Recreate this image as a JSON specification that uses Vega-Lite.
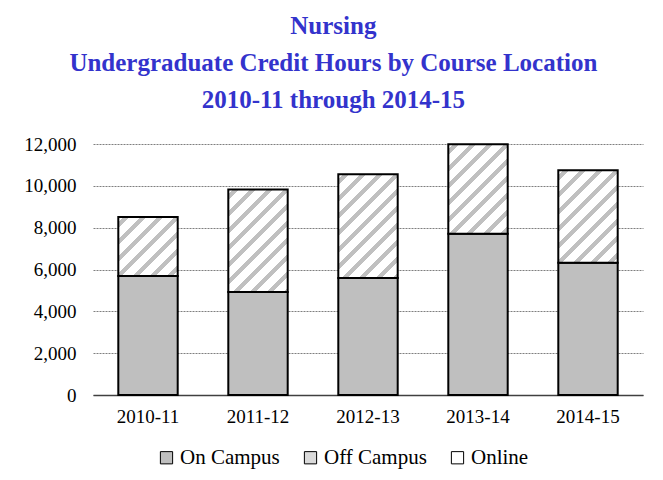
{
  "$schema": "https://vega.github.io/schema/vega-lite/v6.json",
  "width": 550,
  "height": 251,
  "autosize": {"type": "none"},
  "padding": {"left": 93, "top": 144, "right": 20, "bottom": 85},
  "background": "white",
  "title": {
    "text": ["Nursing", "Undergraduate Credit Hours by Course Location", "2010-11 through 2014-15"],
    "font": "Liberation Serif",
    "fontSize": 25,
    "fontWeight": "bold",
    "color": "#3333cc",
    "lineHeight": 37,
    "anchor": "middle",
    "frame": "bounds",
    "offset": 22
  },
  "data": {
    "values": [
      {"year": "2010-11", "loc": "On Campus", "hours": 5690},
      {"year": "2010-11", "loc": "Off Campus", "hours": 2820},
      {"year": "2010-11", "loc": "Online", "hours": 0},
      {"year": "2011-12", "loc": "On Campus", "hours": 4920},
      {"year": "2011-12", "loc": "Off Campus", "hours": 4900},
      {"year": "2011-12", "loc": "Online", "hours": 0},
      {"year": "2012-13", "loc": "On Campus", "hours": 5590},
      {"year": "2012-13", "loc": "Off Campus", "hours": 4960},
      {"year": "2012-13", "loc": "Online", "hours": 0},
      {"year": "2013-14", "loc": "On Campus", "hours": 7710},
      {"year": "2013-14", "loc": "Off Campus", "hours": 4280},
      {"year": "2013-14", "loc": "Online", "hours": 0},
      {"year": "2014-15", "loc": "On Campus", "hours": 6320},
      {"year": "2014-15", "loc": "Off Campus", "hours": 4420},
      {"year": "2014-15", "loc": "Online", "hours": 0}
    ]
  },
  "mark": {"type": "bar", "stroke": "black", "strokeWidth": 2},
  "encoding": {
    "x": {
      "field": "year", "type": "nominal",
      "scale": {"paddingInner": 0.46, "paddingOuter": 0.23},
      "axis": {"title": null, "labelAngle": 0, "ticks": false, "domain": true, "domainColor": "#404040", "domainWidth": 1.5, "labelPadding": 12, "labelFont": "Liberation Serif", "labelFontSize": 19, "labelColor": "black"}
    },
    "y": {
      "field": "hours", "type": "quantitative", "stack": "zero",
      "scale": {"domain": [0, 12000], "nice": false},
      "axis": {"title": null, "values": [0, 2000, 4000, 6000, 8000, 10000, 12000], "format": ",d", "domain": false, "ticks": false, "labelPadding": 17, "labelFont": "Liberation Serif", "labelFontSize": 19, "labelColor": "black", "grid": true, "gridColor": "#7f7f7f", "gridDash": [2, 1]}
    },
    "order": {"field": "loc", "sort": "descending"},
    "fill": {
      "field": "loc", "type": "nominal",
      "scale": {"domain": ["On Campus", "Off Campus", "Online"], "range": ["#bfbfbf", "#dadada", "#ffffff"]},
      "legend": {"title": null, "orient": "none", "legendX": 63, "legendY": 303, "direction": "horizontal", "symbolType": "square", "symbolSize": 150, "symbolStrokeColor": "black", "symbolStrokeWidth": 1, "labelFont": "Liberation Serif", "labelFontSize": 21, "labelColor": "black", "labelOffset": 3, "columnPadding": 20},
      "condition": [
        {"test": "datum.loc === 'Off Campus' && datum.year === '2010-11'", "value": {"gradient": "linear", "x1": 0, "y1": 0, "x2": 1.4406, "y2": 1.4309, "stops": [
          {"offset": 0, "color": "#ffffff"},
          {"offset": 0.0294, "color": "#ffffff"}, {"offset": 0.0294, "color": "#c0c0c0"}, {"offset": 0.0647, "color": "#c0c0c0"}, {"offset": 0.0647, "color": "#ffffff"},
          {"offset": 0.1294, "color": "#ffffff"}, {"offset": 0.1294, "color": "#c0c0c0"}, {"offset": 0.1647, "color": "#c0c0c0"}, {"offset": 0.1647, "color": "#ffffff"},
          {"offset": 0.2294, "color": "#ffffff"}, {"offset": 0.2294, "color": "#c0c0c0"}, {"offset": 0.2647, "color": "#c0c0c0"}, {"offset": 0.2647, "color": "#ffffff"},
          {"offset": 0.3294, "color": "#ffffff"}, {"offset": 0.3294, "color": "#c0c0c0"}, {"offset": 0.3647, "color": "#c0c0c0"}, {"offset": 0.3647, "color": "#ffffff"},
          {"offset": 0.4294, "color": "#ffffff"}, {"offset": 0.4294, "color": "#c0c0c0"}, {"offset": 0.4647, "color": "#c0c0c0"}, {"offset": 0.4647, "color": "#ffffff"},
          {"offset": 0.5294, "color": "#ffffff"}, {"offset": 0.5294, "color": "#c0c0c0"}, {"offset": 0.5647, "color": "#c0c0c0"}, {"offset": 0.5647, "color": "#ffffff"},
          {"offset": 0.6294, "color": "#ffffff"}, {"offset": 0.6294, "color": "#c0c0c0"}, {"offset": 0.6647, "color": "#c0c0c0"}, {"offset": 0.6647, "color": "#ffffff"},
          {"offset": 0.7294, "color": "#ffffff"}, {"offset": 0.7294, "color": "#c0c0c0"}, {"offset": 0.7647, "color": "#c0c0c0"}, {"offset": 0.7647, "color": "#ffffff"},
          {"offset": 0.8294, "color": "#ffffff"}, {"offset": 0.8294, "color": "#c0c0c0"}, {"offset": 0.8647, "color": "#c0c0c0"}, {"offset": 0.8647, "color": "#ffffff"},
          {"offset": 0.9294, "color": "#ffffff"}, {"offset": 0.9294, "color": "#c0c0c0"}, {"offset": 0.9647, "color": "#c0c0c0"}, {"offset": 0.9647, "color": "#ffffff"},
          {"offset": 1, "color": "#ffffff"}]}},
        {"test": "datum.loc === 'Off Campus' && datum.year === '2011-12'", "value": {"gradient": "linear", "x1": 0, "y1": 0, "x2": 0.7195, "y2": 1.2416, "stops": [
          {"offset": 0, "color": "#ffffff"},
          {"offset": 0.0294, "color": "#ffffff"}, {"offset": 0.0294, "color": "#c0c0c0"}, {"offset": 0.0647, "color": "#c0c0c0"}, {"offset": 0.0647, "color": "#ffffff"},
          {"offset": 0.1294, "color": "#ffffff"}, {"offset": 0.1294, "color": "#c0c0c0"}, {"offset": 0.1647, "color": "#c0c0c0"}, {"offset": 0.1647, "color": "#ffffff"},
          {"offset": 0.2294, "color": "#ffffff"}, {"offset": 0.2294, "color": "#c0c0c0"}, {"offset": 0.2647, "color": "#c0c0c0"}, {"offset": 0.2647, "color": "#ffffff"},
          {"offset": 0.3294, "color": "#ffffff"}, {"offset": 0.3294, "color": "#c0c0c0"}, {"offset": 0.3647, "color": "#c0c0c0"}, {"offset": 0.3647, "color": "#ffffff"},
          {"offset": 0.4294, "color": "#ffffff"}, {"offset": 0.4294, "color": "#c0c0c0"}, {"offset": 0.4647, "color": "#c0c0c0"}, {"offset": 0.4647, "color": "#ffffff"},
          {"offset": 0.5294, "color": "#ffffff"}, {"offset": 0.5294, "color": "#c0c0c0"}, {"offset": 0.5647, "color": "#c0c0c0"}, {"offset": 0.5647, "color": "#ffffff"},
          {"offset": 0.6294, "color": "#ffffff"}, {"offset": 0.6294, "color": "#c0c0c0"}, {"offset": 0.6647, "color": "#c0c0c0"}, {"offset": 0.6647, "color": "#ffffff"},
          {"offset": 0.7294, "color": "#ffffff"}, {"offset": 0.7294, "color": "#c0c0c0"}, {"offset": 0.7647, "color": "#c0c0c0"}, {"offset": 0.7647, "color": "#ffffff"},
          {"offset": 0.8294, "color": "#ffffff"}, {"offset": 0.8294, "color": "#c0c0c0"}, {"offset": 0.8647, "color": "#c0c0c0"}, {"offset": 0.8647, "color": "#ffffff"},
          {"offset": 0.9294, "color": "#ffffff"}, {"offset": 0.9294, "color": "#c0c0c0"}, {"offset": 0.9647, "color": "#c0c0c0"}, {"offset": 0.9647, "color": "#ffffff"},
          {"offset": 1, "color": "#ffffff"}]}},
        {"test": "datum.loc === 'Off Campus' && datum.year === '2012-13'", "value": {"gradient": "linear", "x1": 0, "y1": 0, "x2": 0.7070, "y2": 1.2343, "stops": [
          {"offset": 0, "color": "#ffffff"},
          {"offset": 0.0294, "color": "#ffffff"}, {"offset": 0.0294, "color": "#c0c0c0"}, {"offset": 0.0647, "color": "#c0c0c0"}, {"offset": 0.0647, "color": "#ffffff"},
          {"offset": 0.1294, "color": "#ffffff"}, {"offset": 0.1294, "color": "#c0c0c0"}, {"offset": 0.1647, "color": "#c0c0c0"}, {"offset": 0.1647, "color": "#ffffff"},
          {"offset": 0.2294, "color": "#ffffff"}, {"offset": 0.2294, "color": "#c0c0c0"}, {"offset": 0.2647, "color": "#c0c0c0"}, {"offset": 0.2647, "color": "#ffffff"},
          {"offset": 0.3294, "color": "#ffffff"}, {"offset": 0.3294, "color": "#c0c0c0"}, {"offset": 0.3647, "color": "#c0c0c0"}, {"offset": 0.3647, "color": "#ffffff"},
          {"offset": 0.4294, "color": "#ffffff"}, {"offset": 0.4294, "color": "#c0c0c0"}, {"offset": 0.4647, "color": "#c0c0c0"}, {"offset": 0.4647, "color": "#ffffff"},
          {"offset": 0.5294, "color": "#ffffff"}, {"offset": 0.5294, "color": "#c0c0c0"}, {"offset": 0.5647, "color": "#c0c0c0"}, {"offset": 0.5647, "color": "#ffffff"},
          {"offset": 0.6294, "color": "#ffffff"}, {"offset": 0.6294, "color": "#c0c0c0"}, {"offset": 0.6647, "color": "#c0c0c0"}, {"offset": 0.6647, "color": "#ffffff"},
          {"offset": 0.7294, "color": "#ffffff"}, {"offset": 0.7294, "color": "#c0c0c0"}, {"offset": 0.7647, "color": "#c0c0c0"}, {"offset": 0.7647, "color": "#ffffff"},
          {"offset": 0.8294, "color": "#ffffff"}, {"offset": 0.8294, "color": "#c0c0c0"}, {"offset": 0.8647, "color": "#c0c0c0"}, {"offset": 0.8647, "color": "#ffffff"},
          {"offset": 0.9294, "color": "#ffffff"}, {"offset": 0.9294, "color": "#c0c0c0"}, {"offset": 0.9647, "color": "#c0c0c0"}, {"offset": 0.9647, "color": "#ffffff"},
          {"offset": 1, "color": "#ffffff"}]}},
        {"test": "datum.loc === 'Off Campus' && datum.year === '2013-14'", "value": {"gradient": "linear", "x1": 0, "y1": 0, "x2": 0.8751, "y2": 1.3186, "stops": [
          {"offset": 0, "color": "#ffffff"},
          {"offset": 0.0294, "color": "#ffffff"}, {"offset": 0.0294, "color": "#c0c0c0"}, {"offset": 0.0647, "color": "#c0c0c0"}, {"offset": 0.0647, "color": "#ffffff"},
          {"offset": 0.1294, "color": "#ffffff"}, {"offset": 0.1294, "color": "#c0c0c0"}, {"offset": 0.1647, "color": "#c0c0c0"}, {"offset": 0.1647, "color": "#ffffff"},
          {"offset": 0.2294, "color": "#ffffff"}, {"offset": 0.2294, "color": "#c0c0c0"}, {"offset": 0.2647, "color": "#c0c0c0"}, {"offset": 0.2647, "color": "#ffffff"},
          {"offset": 0.3294, "color": "#ffffff"}, {"offset": 0.3294, "color": "#c0c0c0"}, {"offset": 0.3647, "color": "#c0c0c0"}, {"offset": 0.3647, "color": "#ffffff"},
          {"offset": 0.4294, "color": "#ffffff"}, {"offset": 0.4294, "color": "#c0c0c0"}, {"offset": 0.4647, "color": "#c0c0c0"}, {"offset": 0.4647, "color": "#ffffff"},
          {"offset": 0.5294, "color": "#ffffff"}, {"offset": 0.5294, "color": "#c0c0c0"}, {"offset": 0.5647, "color": "#c0c0c0"}, {"offset": 0.5647, "color": "#ffffff"},
          {"offset": 0.6294, "color": "#ffffff"}, {"offset": 0.6294, "color": "#c0c0c0"}, {"offset": 0.6647, "color": "#c0c0c0"}, {"offset": 0.6647, "color": "#ffffff"},
          {"offset": 0.7294, "color": "#ffffff"}, {"offset": 0.7294, "color": "#c0c0c0"}, {"offset": 0.7647, "color": "#c0c0c0"}, {"offset": 0.7647, "color": "#ffffff"},
          {"offset": 0.8294, "color": "#ffffff"}, {"offset": 0.8294, "color": "#c0c0c0"}, {"offset": 0.8647, "color": "#c0c0c0"}, {"offset": 0.8647, "color": "#ffffff"},
          {"offset": 0.9294, "color": "#ffffff"}, {"offset": 0.9294, "color": "#c0c0c0"}, {"offset": 0.9647, "color": "#c0c0c0"}, {"offset": 0.9647, "color": "#ffffff"},
          {"offset": 1, "color": "#ffffff"}]}},
        {"test": "datum.loc === 'Off Campus' && datum.year === '2014-15'", "value": {"gradient": "linear", "x1": 0, "y1": 0, "x2": 0.8356, "y2": 1.3012, "stops": [
          {"offset": 0, "color": "#ffffff"},
          {"offset": 0.0294, "color": "#ffffff"}, {"offset": 0.0294, "color": "#c0c0c0"}, {"offset": 0.0647, "color": "#c0c0c0"}, {"offset": 0.0647, "color": "#ffffff"},
          {"offset": 0.1294, "color": "#ffffff"}, {"offset": 0.1294, "color": "#c0c0c0"}, {"offset": 0.1647, "color": "#c0c0c0"}, {"offset": 0.1647, "color": "#ffffff"},
          {"offset": 0.2294, "color": "#ffffff"}, {"offset": 0.2294, "color": "#c0c0c0"}, {"offset": 0.2647, "color": "#c0c0c0"}, {"offset": 0.2647, "color": "#ffffff"},
          {"offset": 0.3294, "color": "#ffffff"}, {"offset": 0.3294, "color": "#c0c0c0"}, {"offset": 0.3647, "color": "#c0c0c0"}, {"offset": 0.3647, "color": "#ffffff"},
          {"offset": 0.4294, "color": "#ffffff"}, {"offset": 0.4294, "color": "#c0c0c0"}, {"offset": 0.4647, "color": "#c0c0c0"}, {"offset": 0.4647, "color": "#ffffff"},
          {"offset": 0.5294, "color": "#ffffff"}, {"offset": 0.5294, "color": "#c0c0c0"}, {"offset": 0.5647, "color": "#c0c0c0"}, {"offset": 0.5647, "color": "#ffffff"},
          {"offset": 0.6294, "color": "#ffffff"}, {"offset": 0.6294, "color": "#c0c0c0"}, {"offset": 0.6647, "color": "#c0c0c0"}, {"offset": 0.6647, "color": "#ffffff"},
          {"offset": 0.7294, "color": "#ffffff"}, {"offset": 0.7294, "color": "#c0c0c0"}, {"offset": 0.7647, "color": "#c0c0c0"}, {"offset": 0.7647, "color": "#ffffff"},
          {"offset": 0.8294, "color": "#ffffff"}, {"offset": 0.8294, "color": "#c0c0c0"}, {"offset": 0.8647, "color": "#c0c0c0"}, {"offset": 0.8647, "color": "#ffffff"},
          {"offset": 0.9294, "color": "#ffffff"}, {"offset": 0.9294, "color": "#c0c0c0"}, {"offset": 0.9647, "color": "#c0c0c0"}, {"offset": 0.9647, "color": "#ffffff"},
          {"offset": 1, "color": "#ffffff"}]}}
      ]
    }
  },
  "config": {
    "view": {"stroke": null},
    "font": "Liberation Serif"
  }
}
